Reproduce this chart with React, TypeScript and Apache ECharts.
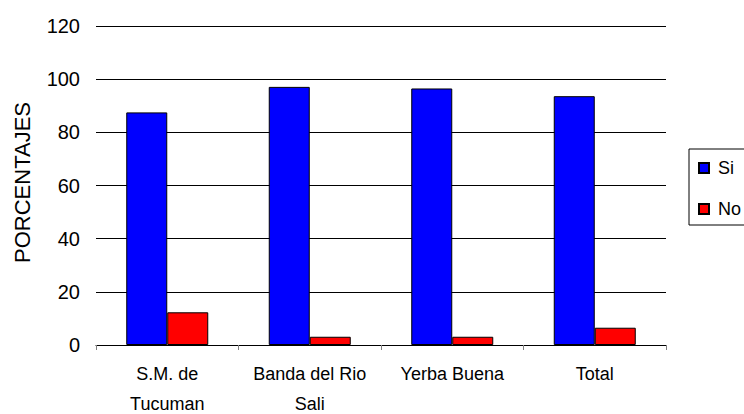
import React, { useEffect, useRef } from "react";
import * as echarts from "echarts";

const categories = ["S.M. de\nTucuman", "Banda del Rio\nSali", "Yerba Buena", "Total"];
const siValues = [87.5, 97.1, 96.5, 93.6];
const noValues = [12.3, 3.1, 3.1, 6.5];
const yTicks = { min: 0, max: 120, interval: 20 };

export default function App() {
  const ref = useRef<HTMLDivElement>(null);
  useEffect(() => {
    if (!ref.current) return;
    const chart = echarts.init(ref.current, null, { renderer: "svg" });
    const font = "Liberation Sans, Arial, sans-serif";
    chart.setOption({
      animation: false,
      textStyle: { fontFamily: font },
      grid: { left: 96, right: 78, top: 26, bottom: 69, containLabel: false, outerBoundsMode: "none" },
      legend: {
        orient: "vertical",
        left: 689,
        top: 149,
        padding: [10, 40, 7, 9],
        itemGap: 23,
        itemWidth: 10,
        itemHeight: 10,
        borderColor: "#000",
        borderWidth: 1,
        borderRadius: 0,
        textStyle: { fontSize: 18, color: "#000", fontFamily: font, padding: [0, 0, 0, 4] },
        data: [
          { name: "Si", icon: "rect" },
          { name: "No", icon: "rect" },
        ],
      },
      xAxis: {
        type: "category",
        data: categories,
        axisLine: { show: true, lineStyle: { color: "#000", width: 1 } },
        axisTick: { show: true, length: 5, lineStyle: { color: "#808080", width: 1 } },
        axisLabel: {
          fontSize: 18,
          color: "#000",
          fontFamily: font,
          margin: 14,
          lineHeight: 30,
          interval: 0,
        },
      },
      yAxis: {
        type: "value",
        min: yTicks.min,
        max: yTicks.max,
        interval: yTicks.interval,
        name: "PORCENTAJES",
        nameLocation: "middle",
        nameGap: 63,
        nameTextStyle: { fontSize: 22, color: "#000", fontFamily: font, padding: [0, 0, 0, 6] },
        axisLine: { show: false },
        axisTick: { show: false },
        axisLabel: { fontSize: 20, color: "#000", fontFamily: font, margin: 16 },
        splitLine: { show: true, lineStyle: { color: "#000", width: 1 } },
      },
      series: [
        {
          name: "Si",
          type: "bar",
          data: siValues,
          barWidth: 41,
          barGap: "0%",
          itemStyle: { color: "#0000FF", borderColor: "#000", borderWidth: 1 },
        },
        {
          name: "No",
          type: "bar",
          data: noValues,
          barWidth: 41,
          barGap: "0%",
          itemStyle: { color: "#FF0000", borderColor: "#000", borderWidth: 1 },
        },
      ],
    });
    return () => chart.dispose();
  }, []);
  return <div ref={ref} style={{ width: 744, height: 414, position: "absolute", left: 0, top: 0 }} />;
}
